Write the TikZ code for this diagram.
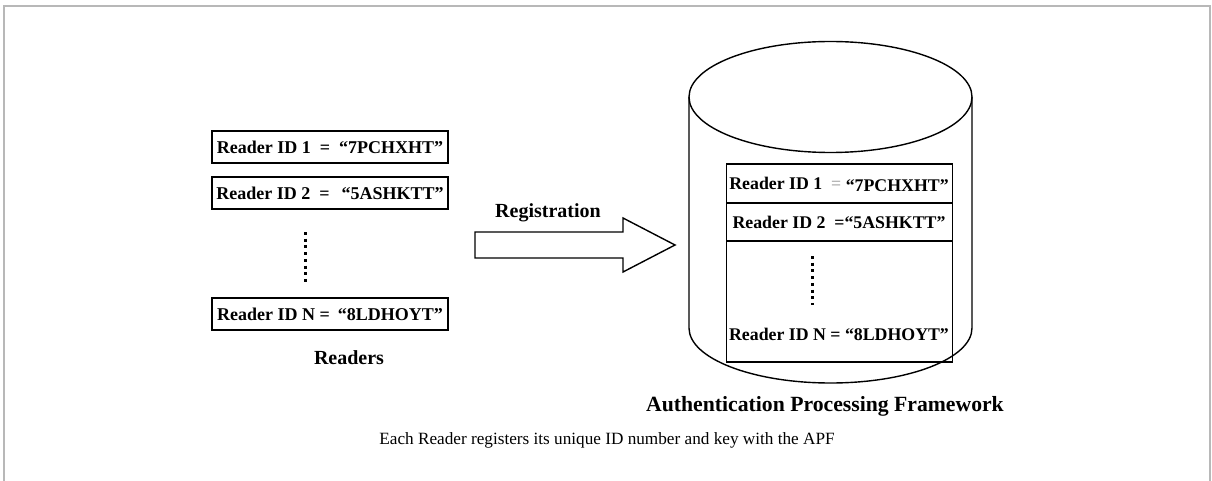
\documentclass[tikz,border=0pt]{standalone}
\usepackage{fontspec}
\setmainfont{Liberation Serif}
\begin{document}
\begin{tikzpicture}[x=1pt,y=-1pt,
  idbox/.style={draw,line width=2pt,minimum width=236pt,minimum height=32pt,inner sep=0pt,font=\fontsize{18}{20}\selectfont\bfseries},
  rowtext/.style={inner sep=0pt,font=\fontsize{17.8}{20}\selectfont\bfseries},
  lbl/.style={inner sep=0pt,font=\fontsize{20}{22}\selectfont\bfseries},
  shape line/.style={draw,line width=1.4pt},
  dotline/.style={line width=3pt,dash pattern=on 3pt off 3.7pt}]
\useasboundingbox (0,0) rectangle (1212,481);
% frame
\draw[line width=2pt,color=black!28] (4,481) -- (4,6) -- (1210,6) -- (1210,481);
% left reader boxes
\node[idbox] (r1) at (330,147) {Reader ID 1~~=~~“7PCHXHT”};
\node[idbox] (r2) at (330,193) {Reader ID 2~~=~~\,“5ASHKTT”};
\node[idbox] (rn) at (330,314) {Reader ID N =\hspace{8pt}“8LDHOYT”};
\coordinate (d1) at (305,232);
\coordinate (d2) at (305,283);
\draw[dotline] (d1) -- (d2);
\node[lbl] (readers) at (349,358) {Readers};
% registration arrow
\draw[shape line] (475,232) -- (623,232) -- (623,218) -- (675,245) -- (623,272) -- (623,258) -- (475,258) -- cycle;
\node[lbl] (reg) at (548,213) {Registration};
% cylinder
\draw[shape line] (689,97) -- (689,328) arc[start angle=180,end angle=360,x radius=141.5pt,y radius=55pt] -- (972,97);
\draw[shape line] (830.5,97) ellipse[x radius=141.5pt,y radius=55.5pt];
% inner table
\draw[line width=1.6pt] (726.5,164) rectangle (952.5,362);
\draw[line width=1.6pt] (726.5,203) -- (952.5,203);
\draw[line width=1.6pt] (726.5,241) -- (952.5,241);
\node[rowtext] (t1) at (839,184) {Reader ID 1~~{\color{black!30}=}~\raisebox{-2pt}{“7PCHXHT”}};
\node[rowtext] (t2) at (839,222) {Reader ID 2~~=“5ASHKTT”};
\coordinate (e1) at (812,256);
\coordinate (e2) at (812,305);
\draw[dotline] (e1) -- (e2);
\node[rowtext] (tn) at (839,334) {Reader ID N = “8LDHOYT”};
\node[inner sep=0pt,font=\fontsize{21.7}{24}\selectfont\bfseries] (apf) at (825,406) {Authentication Processing Framework};
\node[inner sep=0pt,font=\fontsize{17.2}{19}\selectfont] (cap) at (607,440) {Each Reader registers its unique ID number and key with the APF};
\end{tikzpicture}
\end{document}
